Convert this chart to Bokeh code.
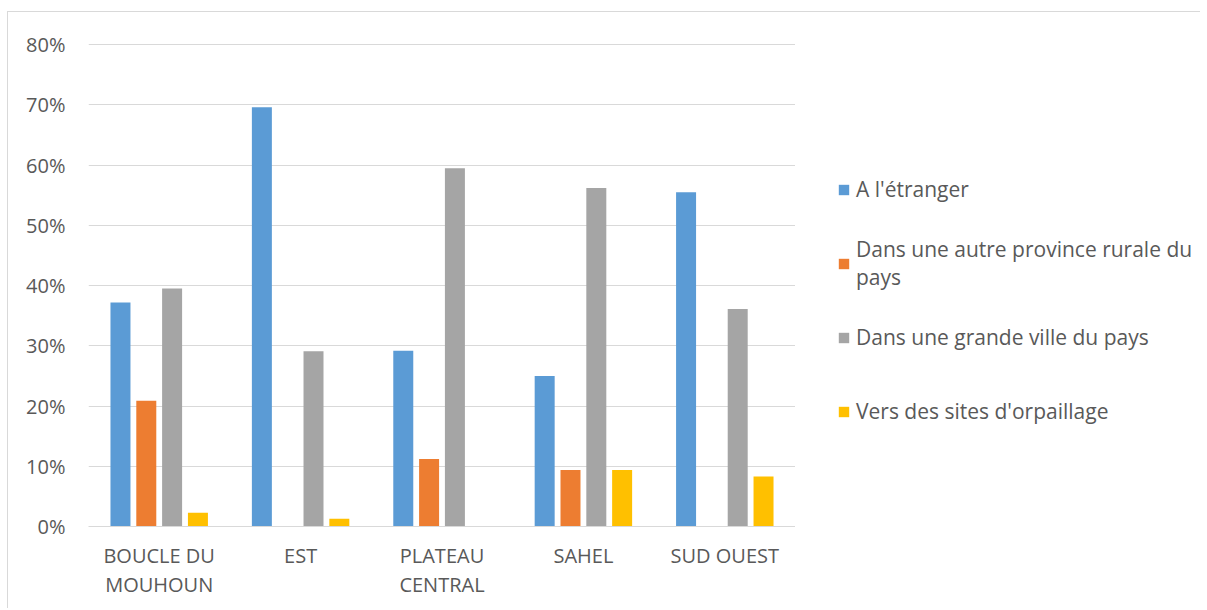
from bokeh.plotting import figure
from bokeh.layouts import row
from bokeh.models import (ColumnDataSource, FactorRange, Range1d, Legend, LegendItem,
                          NumeralTickFormatter, FixedTicker)
from bokeh.transform import dodge
from bokeh.embed import file_html
from bokeh.resources import INLINE

categories = ["BOUCLE DU\nMOUHOUN", "EST", "PLATEAU\nCENTRAL", "SAHEL", "SUD OUEST"]
series_names = ["A l'étranger",
                "Dans une autre province rurale du\npays",
                "Dans une grande ville du pays",
                "Vers des sites d'orpaillage"]
etranger = [0.372, 0.696, 0.292, 0.250, 0.555]
autre_province = [0.209, 0.0, 0.112, 0.094, 0.0]
grande_ville = [0.395, 0.291, 0.595, 0.562, 0.361]
orpaillage = [0.023, 0.013, 0.0, 0.094, 0.083]
y_ticks = [0, 0.1, 0.2, 0.3, 0.4, 0.5, 0.6, 0.7, 0.8]

colors = ["#5B9BD5", "#ED7D31", "#A5A5A5", "#FFC000"]
cols = ["etranger", "autre", "ville", "orpa"]

source = ColumnDataSource(dict(cat=categories, etranger=etranger, autre=autre_province,
                               ville=grande_ville, orpa=orpaillage))

FONT = "Open Sans"
TXT = "#595959"
GRID = "#D9D9D9"
H = 596

p = figure(width=787, height=H, x_range=FactorRange(*categories, range_padding=0),
           y_range=Range1d(0, 0.802), output_backend="svg", toolbar_location=None,
           min_border_left=80, min_border_top=31, min_border_right=0, min_border_bottom=82)
p.outline_line_color = None
p.background_fill_color = "white"
p.border_fill_color = "white"

offsets = [-0.2739, -0.0913, 0.0913, 0.2739]
renderers = []
for c, col, off in zip(cols, colors, offsets):
    r = p.vbar(x=dodge("cat", off, range=p.x_range), top=c, width=0.1414, source=source,
               fill_color=col, line_color=None)
    renderers.append(r)

p.xgrid.grid_line_color = None
p.ygrid.grid_line_color = GRID
p.ygrid.grid_line_width = 1
p.yaxis.ticker = FixedTicker(ticks=y_ticks)
p.yaxis.formatter = NumeralTickFormatter(format="0%")
p.yaxis.axis_line_color = None
p.yaxis.major_tick_line_color = None
p.yaxis.minor_tick_line_color = None
p.yaxis.major_label_standoff = 17
p.xaxis.axis_line_color = GRID
p.xaxis.major_tick_line_color = None
p.xaxis.minor_tick_line_color = None
p.xaxis.major_label_standoff = 9
for ax in (p.xaxis, p.yaxis):
    ax.major_label_text_font = FONT
    ax.major_label_text_font_size = "20px"
    ax.major_label_text_color = TXT
p.xaxis.major_label_text_line_height = 1.1

# legend panel (separate figure to the right of the plot area)
q = figure(width=405, height=H, x_range=Range1d(0, 1), y_range=Range1d(0, 1),
           output_backend="svg", toolbar_location=None, x_axis_type=None, y_axis_type=None,
           min_border_left=0, min_border_right=0, min_border_top=0, min_border_bottom=0)
q.grid.visible = False
q.outline_line_color = None
q.background_fill_color = "white"
q.border_fill_color = "white"
# zero-size placeholders that only carry the legend swatch colours
legend_renderers = [q.vbar(x=[0.5], top=[0], bottom=[0], width=0, fill_color=col, line_color=None)
                    for col in colors]

legend = Legend(items=[LegendItem(label=n, renderers=[r])
                       for n, r in zip(series_names, legend_renderers)],
                location=(42, 78), orientation="vertical")
legend.label_text_font = FONT
legend.label_text_font_size = "21px"
legend.label_text_color = TXT
legend.label_text_line_height = 1.55
legend.glyph_width = 13
legend.glyph_height = 13
legend.label_standoff = 6
legend.label_height = 74
legend.spacing = 0
legend.padding = 0
legend.margin = 0
legend.border_line_color = None
legend.background_fill_alpha = 0
q.add_layout(legend, "center")

layout = row(p, q, spacing=0)
layout.styles = {"border-top": "1px solid #D9D9D9", "border-left": "1px solid #D9D9D9",
                 "margin-left": "7px", "margin-top": "11px"}

open("out.html", "w").write(file_html(layout, INLINE))
